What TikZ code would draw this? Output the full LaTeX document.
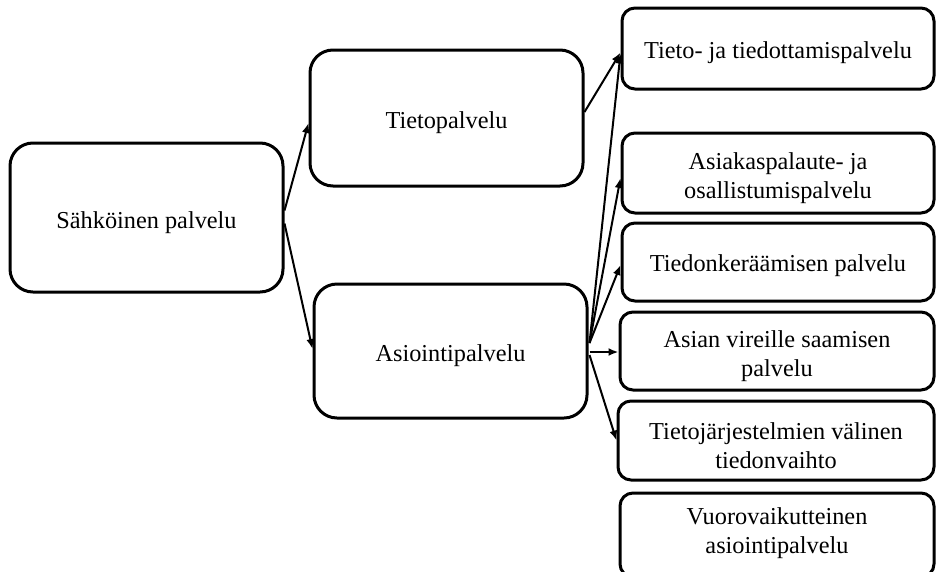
\documentclass[tikz,border=0pt]{standalone}
\usepackage{fontspec}
\setmainfont{Liberation Serif}
\usetikzlibrary{arrows.meta,calc}

\tikzset{
  bigbox/.style={draw, line width=3pt, rounded corners=23pt,
    minimum width=273pt, inner sep=0pt},
  sidebox/.style={draw, line width=3pt, rounded corners=13pt,
    minimum width=312pt, inner sep=0pt},
  caption/.style={align=center, inner sep=0pt,
    font=\fontsize{24.3}{29}\selectfont},
  link/.style={line width=2pt, -{Latex[length=10pt,width=8pt]}}
}

\begin{document}
\begin{tikzpicture}[x=1pt,y=-1pt]
  \useasboundingbox (0,0) rectangle (936,571);
  \clip (0,0) rectangle (936,571);

  % main hierarchy
  \node[bigbox, minimum height=149pt] (s)  at (146.5,217.5) {};
  \node[bigbox, minimum height=136pt] (tp) at (446.5,118)   {};
  \node[bigbox, minimum height=134pt] (ap) at (450.5,351)   {};

  % service types
  \node[sidebox, minimum height=81pt] (r1) at (778,48.5) {};
  \node[sidebox, minimum height=80pt] (r2) at (778,173)  {};
  \node[sidebox, minimum height=78pt] (r3) at (778,262)  {};
  \node[sidebox, minimum height=78pt, minimum width=314pt] (r4) at (777,351)   {};
  \node[sidebox, minimum height=79pt, minimum width=316pt] (r5) at (776,440.5) {};
  \node[sidebox, minimum height=84pt, minimum width=314pt] (r6) at (777,535)   {};

  % box captions
  \node[caption] (st)  at ($(s)+(0,5)$)  {Sähköinen palvelu};
  \node[caption] (tpt) at ($(tp)+(0,5)$) {Tietopalvelu};
  \node[caption] (apt) at ($(ap)+(0,5)$) {Asiointipalvelu};
  \node[caption] (r1t) at ($(r1)+(0,4)$) {Tieto- ja tiedottamispalvelu};
  \node[caption] (r2t) at ($(r2)+(0,5)$) {Asiakaspalaute- ja\\osallistumispalvelu};
  \node[caption] (r3t) at ($(r3)+(0,4)$) {Tiedonkeräämisen palvelu};
  \node[caption] (r4t) at ($(r4)+(0,5)$) {Asian vireille saamisen\\palvelu};
  \node[caption] (r5t) at ($(r5)+(0,5)$) {Tietojärjestelmien välinen\\tiedonvaihto};
  \node[caption] (r6t) at ($(r6)+(0,-2)$) {Vuorovaikutteinen\\asiointipalvelu};

  % connectors
  \draw[link] ($(s.east)+(0,-7)$) -- ($(tp.west)+(0,5)$);
  \draw[link] ($(s.east)+(0,6)$) -- ($(ap.west)+(0,-2)$);
  \draw[link] ($(tp.east)+(0,-6)$) -- ($(r1.west)+(0,4)$);
  \draw[link] ($(ap.east)+(1,-8)$) -- ($(r1.west)+(0,5)$);
  \draw[link] ($(ap.east)+(1,-8)$) -- ($(r2.west)+(0,5)$);
  \draw[link] ($(ap.east)+(1,-8)$) -- ($(r3.west)+(0,3)$);
  \draw[link] ($(ap.east)+(1,1)$)  -- ($(r4.west)+(0,1)$);
  \draw[link] ($(ap.east)+(1,4)$)  -- (r5.west);
\end{tikzpicture}
\end{document}
